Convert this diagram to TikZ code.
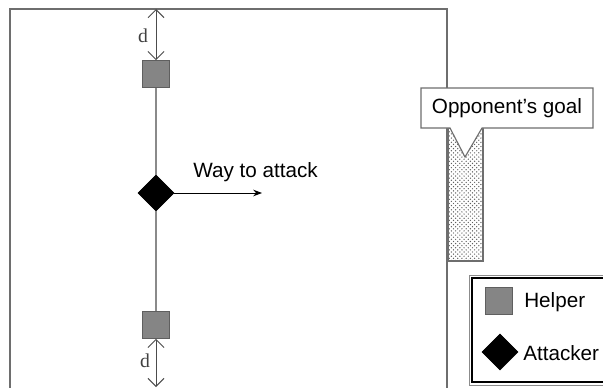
\documentclass[tikz,border=0pt]{standalone}
\usepackage{fontspec}
\setmainfont{Liberation Sans}
\newfontfamily\serifd{Liberation Serif}
\usepackage{tikz}
\usetikzlibrary{positioning,patterns,arrows.meta,shapes.geometric}
\definecolor{fdLine}{RGB}{110,110,110}
\definecolor{fdHelper}{RGB}{133,133,133}
\definecolor{fdHelperEdge}{RGB}{95,95,95}
\definecolor{fdLink}{RGB}{138,138,138}
\definecolor{fdDots}{RGB}{95,95,95}

\begin{document}
\begin{tikzpicture}[
  x=0.025cm, y=-0.025cm,
  font=\fontsize{14.7pt}{17pt}\selectfont,
  field/.style={draw=fdLine, line width=0.9pt},
  helper/.style={rectangle, draw=fdHelperEdge, fill=fdHelper, line width=0.6pt,
    minimum size=0.67cm, inner sep=0pt},
  attacker/.style={diamond, fill=black, draw=black, minimum size=0.9cm, inner sep=0pt},
  link/.style={draw=fdLink, line width=1.3pt},
  gap/.style={{Straight Barb[length=2mm]}-{Straight Barb[length=2mm]}, draw=black!70, line width=0.7pt},
  dlab/.style={font=\serifd\fontsize{14pt}{16pt}\selectfont, text=black!75},
  way/.style={-{Stealth[length=2.2mm]}, line width=0.7pt},
  goalbox/.style={draw=fdLine, line width=0.8pt,
    pattern=crosshatch dots, pattern color=fdDots},
  callbox/.style={draw=fdLine, line width=0.8pt, fill=white},
  legbox/.style={draw=black, line width=1.6pt, fill=white}
]
  \clip (0,0) rectangle (603,387);
  \fill[white] (0,0) rectangle (603,387);
  % playing field
  \draw[field] (10,420) -- (10,9) -- (447,9) -- (447,420);
  \coordinate (ftop) at (156,9);
  \coordinate (fbot) at (156,387);
  % players
  \node[helper] (htop) at (156,74) {};
  \node[attacker] (att) at (156,193) {};
  \node[helper] (hbot) at (156,325) {};
  \draw[link] (htop) -- (att);
  \draw[link] (att) -- (hbot);
  \draw[gap] (ftop) -- (htop.north);
  \draw[gap] (hbot.south) -- (fbot);
  \node[dlab] (dtop) at (143,36) {d};
  \node[dlab] (dbot) at (145,361) {d};
  % way to attack
  \coordinate (wayend) at (262,193);
  \draw[way] (att.east) -- (wayend);
  \node[anchor=west, inner sep=0pt] (waylab) at (193,172) {Way to attack};
  % opponent's goal
  \fill[white] (448,128) rectangle (483,261);
  \draw[goalbox] (448,128) rectangle (483,261);
  \draw[callbox] (421,88) -- (593,88) -- (593,128) -- (482,128) -- (465,157)
    -- (450,128) -- (421,128) -- cycle;
  \node (goal) at (507,108) {Opponent's goal};
  % legend
  \draw[black!45, line width=0.6pt] (469,275) rectangle (650,385);
  \draw[legbox] (472,278) rectangle (650,382);
  \node[helper] (lhelp) at (499,301) {};
  \node[anchor=west, inner sep=0pt] (lhelptxt) at (524,302) {Helper};
  \node[attacker] (latt) at (500,352) {};
  \node[anchor=west, inner sep=0pt] (latttxt) at (523,353) {Attacker};
\end{tikzpicture}
\end{document}
